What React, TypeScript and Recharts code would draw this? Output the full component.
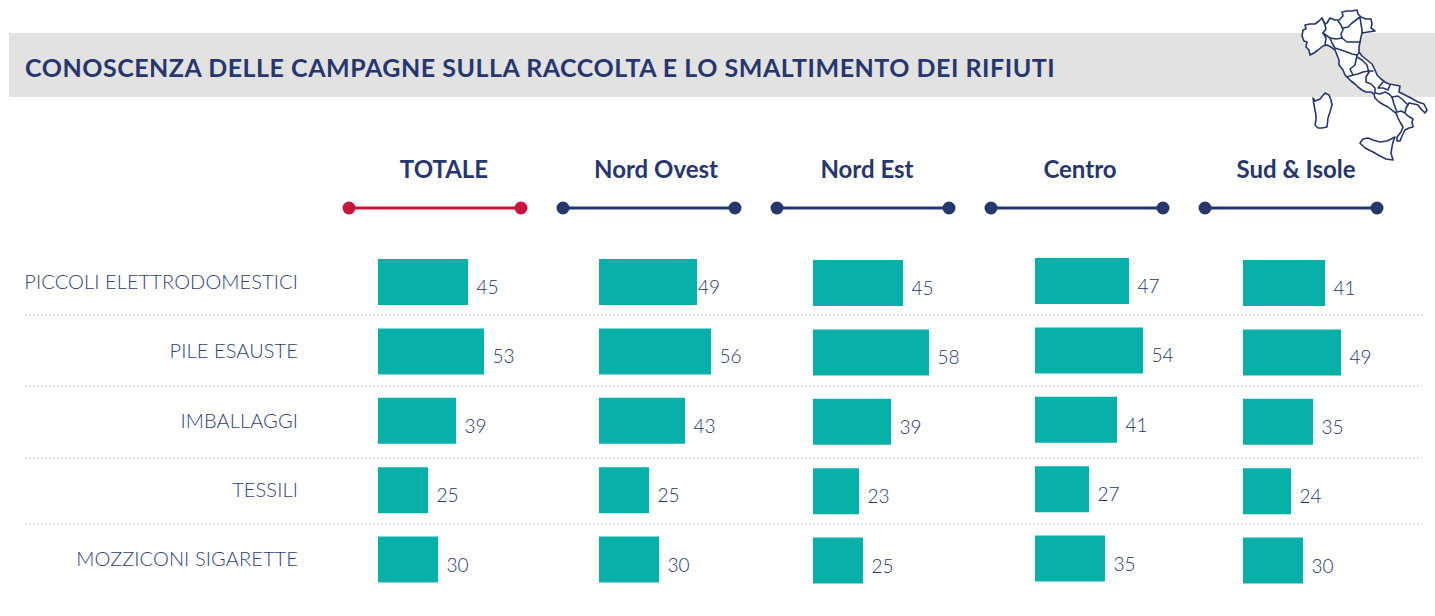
import { BarChart, Bar, XAxis, YAxis, LabelList } from 'recharts';

const categories = ['PICCOLI ELETTRODOMESTICI', 'PILE ESAUSTE', 'IMBALLAGGI', 'TESSILI', 'MOZZICONI SIGARETTE'];
const totale = [45, 53, 39, 25, 30];
const nordOvest = [49, 56, 43, 25, 30];
const nordEst = [45, 58, 39, 23, 25];
const centro = [47, 54, 41, 27, 35];
const sudIsole = [41, 49, 35, 24, 30];

const NAVY = '#26366f';
const RED = '#c8133a';
const TEAL = '#07b0a8';
const FONT = 'Lato, sans-serif';

const columns = [
  { name: 'TOTALE', values: totale, left: 378, top: 247, center: 444, lineFrom: 349, color: RED },
  { name: 'Nord Ovest', values: nordOvest, left: 599, top: 247, center: 656, lineFrom: 563, color: NAVY },
  { name: 'Nord Est', values: nordEst, left: 813, top: 248, center: 867, lineFrom: 777, color: NAVY },
  { name: 'Centro', values: centro, left: 1035, top: 246, center: 1080, lineFrom: 991, color: NAVY },
  { name: 'Sud & Isole', values: sudIsole, left: 1243, top: 248, center: 1296, lineFrom: 1205, color: NAVY },
];

const separators = [315, 386, 458, 524];

const BarValue = (props: any) => {
  const { x, y, width, height, value, index, tight } = props;
  const gap = tight && index === 0 ? 1 : 8.5;
  return (
    <text x={x + width + gap} y={y + height / 2 + 12} fill={NAVY} fontSize={19} fontWeight={300} fontFamily={FONT}>
      {value}
    </text>
  );
};

function Column({ values, left, top, withLabels, tight }: any) {
  const rows = categories.map((category, i) => ({ category, value: values[i] }));
  const axisWidth = withLabels ? left : 0;
  return (
    <div style={{ position: 'absolute', left: withLabels ? 0 : left, top }}>
      <BarChart
        width={axisWidth + 160}
        height={347}
        data={rows}
        layout="vertical"
        margin={{ top: 0, right: 0, bottom: 0, left: 0 }}
      >
        <XAxis type="number" domain={[0, 80]} hide />
        <YAxis
          type="category"
          dataKey="category"
          hide={!withLabels}
          width={axisWidth}
          axisLine={false}
          tickLine={false}
          tickSize={0}
          tickMargin={80}
          interval={0}
          tick={{ fill: '#2f3f7a', fontSize: 20, fontWeight: 300, fontFamily: FONT, letterSpacing: 0.1 }}
        />
        <Bar dataKey="value" fill={TEAL} barSize={46} isAnimationActive={false}>
          <LabelList dataKey="value" content={(p: any) => <BarValue {...p} tight={tight} />} />
        </Bar>
      </BarChart>
    </div>
  );
}

function ItalyMap() {
  return (
    <g fill="none" stroke={NAVY} strokeWidth={1.6} strokeLinejoin="round" strokeLinecap="round">
      {/* mainland */}
      <path
        fill="#fff"
        d="M1302 36L1304 41L1307 42L1306 47L1309 50L1310 55L1314 53L1318 50L1323 46L1327 45L1331 47L1335 50L1337 55L1339 60L1339 65L1343 70L1345 75L1347 77L1351 81L1355 84L1358 87L1362 90L1366 92L1371 92L1374 94L1375 98L1379 102L1384 105L1388 107L1393 111L1396 113L1398 118L1400 122L1403 127L1401 132L1397 137L1397 141L1400 141L1402 136L1405 130L1409 128L1413 127L1412 122L1413 119L1408 116L1405 113L1406 108L1409 103L1414 104L1418 105L1421 109L1425 113L1427 110L1424 104L1418 102L1411 98L1405 95L1399 92L1400 86L1395 85L1389 84L1385 82L1381 79L1377 75L1375 70L1372 64L1367 60L1362 56L1359 52L1359 47L1360 42L1361 37L1362 33L1368 32L1375 31L1371 28L1372 24L1371 19L1366 19L1361 17L1358 14L1357 10L1352 11L1347 11L1342 12L1343 16L1339 20L1335 20L1330 18L1327 23L1325 24L1322 18L1319 21L1315 24L1310 24L1305 25L1306 29L1303 30Z"
      />
      {/* sardegna, sicilia */}
      <path fill="#fff" d="M1313 98L1315 101L1320 99L1325 93L1329 95L1331 100L1332 105L1330 112L1328 118L1327 127L1322 128L1318 128L1315 125L1316 120L1316 115L1315 110L1314 105Z" />
      <path fill="#fff" d="M1360 143L1363 139L1368 138L1373 140L1380 142L1387 141L1395 137L1393 142L1392 147L1391 153L1393 160L1386 159L1380 156L1373 152L1365 148Z" />
      {/* regional borders */}
      <path d="M1322 18L1325 25L1326 29L1323 33L1326 38L1325 45" />
      <path d="M1323 33L1330 38L1336 39L1342 38L1347 42L1354 42L1360 42" />
      <path d="M1330 38L1332 43L1335 48L1341 50L1347 52L1352 54L1357 55L1359 53" />
      <path d="M1338 21L1341 25L1343 30L1341 34L1342 38" />
      <path d="M1343 28L1348 27L1352 23L1356 20L1360 17L1361 24L1362 30L1362 33" />
      <path d="M1357 55L1356 60L1355 65L1350 69L1353 75L1347 77" />
      <path d="M1357 57L1362 60L1367 65L1368 69L1369 72" />
      <path d="M1353 75L1358 74L1363 72L1369 71L1373 71" />
      <path d="M1369 72L1366 77L1366 82L1371 84L1375 88L1375 93" />
      <path d="M1383 82L1378 88L1383 88L1388 90L1390 85" />
      <path d="M1375 93L1380 94L1385 92L1389 94L1392 97L1394 104L1397 112" />
      <path d="M1392 97L1398 96L1403 100L1408 105" />
      <path d="M1397 112L1401 111L1405 113" />
    </g>
  );
}

export default function App() {
  return (
    <div style={{ position: 'absolute', left: 0, top: 0, width: 1435, height: 616, background: '#fff', overflow: 'hidden' }}>
      <div style={{ position: 'absolute', left: 9, top: 33, width: 1426, height: 64, background: '#e2e2e0' }} />
      <div
        style={{
          position: 'absolute',
          left: 25,
          top: 51,
          fontFamily: FONT,
          fontWeight: 700,
          fontSize: 25,
          letterSpacing: 0.52,
          lineHeight: '32px',
          color: NAVY,
          whiteSpace: 'nowrap',
        }}
      >
        CONOSCENZA DELLE CAMPAGNE SULLA RACCOLTA E LO SMALTIMENTO DEI RIFIUTI
      </div>
      <svg width={1435} height={616} style={{ position: 'absolute', left: 0, top: 0 }}>
        <ItalyMap />
        {separators.map((y) => (
          <line key={y} x1={25} x2={1422} y1={y} y2={y} stroke="#e0e0e0" strokeWidth={2} strokeDasharray="2 2" />
        ))}
        {columns.map((c) => (
          <g key={c.name}>
            <text x={c.center} y={178} textAnchor="middle" fill={NAVY} fontSize={24} fontWeight={700} fontFamily={FONT}>
              {c.name}
            </text>
            <line x1={c.lineFrom} x2={c.lineFrom + 172} y1={208} y2={208} stroke={c.color} strokeWidth={3} />
            <circle cx={c.lineFrom} cy={208} r={6.5} fill={c.color} />
            <circle cx={c.lineFrom + 172} cy={208} r={6.5} fill={c.color} />
          </g>
        ))}
      </svg>
      {columns.map((c, i) => (
        <Column key={c.name} values={c.values} left={c.left} top={c.top} withLabels={i === 0} tight={i === 1} />
      ))}
    </div>
  );
}
